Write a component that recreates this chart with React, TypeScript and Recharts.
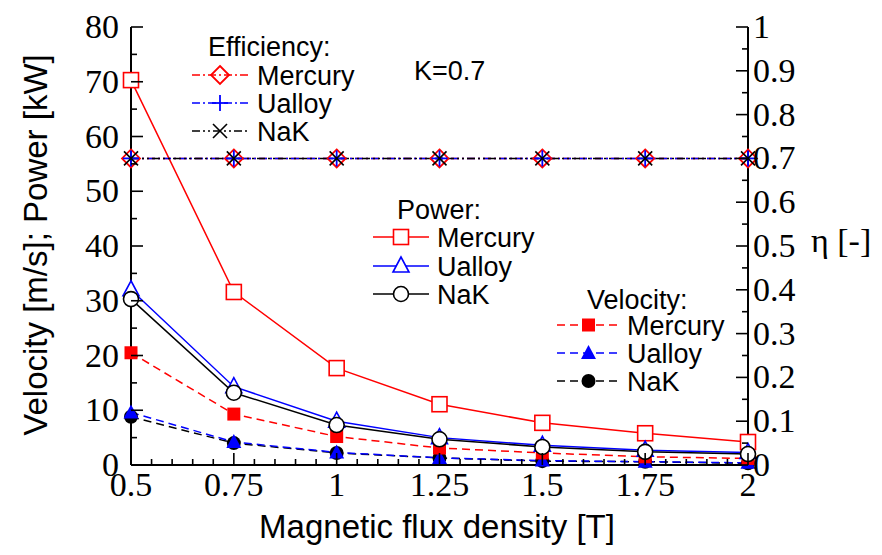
import React from "react";
import { LineChart, Line, XAxis, YAxis } from "recharts";

// Magnetic flux density [T]
const fluxDensity = [0.5, 0.75, 1, 1.25, 1.5, 1.75, 2];

// Power [kW]
const powerMercury = [70.3, 31.6, 17.7, 11.1, 7.7, 5.8, 4.2];
const powerUalloy = [32.0, 14.3, 8.0, 5.0, 3.6, 2.7, 2.3];
const powerNaK = [30.3, 13.2, 7.3, 4.7, 3.3, 2.4, 2.0];

// Velocity [m/s]
const velMercury = [20.5, 9.3, 5.2, 3.1, 2.2, 1.5, 1.2];
const velUalloy = [9.6, 4.2, 2.3, 1.3, 0.8, 0.6, 0.4];
const velNaK = [8.8, 4.0, 2.2, 1.3, 0.7, 0.6, 0.3];

// Efficiency [-]
const effMercury = [0.7, 0.7, 0.7, 0.7, 0.7, 0.7, 0.7];
const effUalloy = [0.7, 0.7, 0.7, 0.7, 0.7, 0.7, 0.7];
const effNaK = [0.7, 0.7, 0.7, 0.7, 0.7, 0.7, 0.7];

// ticks (minor + major)
const xTicks = Array.from({ length: 31 }, (_, i) => +(0.5 + i * 0.05).toFixed(2));
const leftTicks = Array.from({ length: 17 }, (_, i) => i * 5);
const rightTicks = Array.from({ length: 21 }, (_, i) => +(i * 0.05).toFixed(2));

const data = fluxDensity.map((b, i) => ({
  b,
  pM: powerMercury[i],
  pU: powerUalloy[i],
  pN: powerNaK[i],
  vM: velMercury[i],
  vU: velUalloy[i],
  vN: velNaK[i],
  eM: effMercury[i],
  eU: effUalloy[i],
  eN: effNaK[i],
}));

const SERIF = "'Liberation Serif', 'Times New Roman', serif";
const SANS = "'Liberation Sans', Arial, sans-serif";
const RED = "#ff0000";
const BLUE = "#0000ff";
const TICK_FS = 34;

const isMajor = (v: number, step: number) => Math.abs(v / step - Math.round(v / step)) < 1e-6;

function Marker({ kind, cx, cy, color }: { kind: string; cx: number; cy: number; color: string }) {
  switch (kind) {
    case "sqOpen":
      return <rect x={cx - 7.5} y={cy - 7.5} width={15} height={15} fill="#fff" stroke={color} strokeWidth={1.6} />;
    case "triOpen":
      return (
        <polygon
          points={`${cx},${cy - 9} ${cx - 8},${cy + 6} ${cx + 8},${cy + 6}`}
          fill="#fff"
          stroke={color}
          strokeWidth={1.6}
        />
      );
    case "circOpen":
      return <circle cx={cx} cy={cy} r={7.5} fill="#fff" stroke={color} strokeWidth={1.6} />;
    case "sqFill":
      return <rect x={cx - 6.5} y={cy - 6.5} width={13} height={13} fill={color} />;
    case "triFill":
      return <polygon points={`${cx},${cy - 8} ${cx - 7.5},${cy + 6} ${cx + 7.5},${cy + 6}`} fill={color} />;
    case "circFill":
      return <circle cx={cx} cy={cy} r={7} fill={color} />;
    case "diamond":
      return (
        <polygon
          points={`${cx},${cy - 9} ${cx + 9},${cy} ${cx},${cy + 9} ${cx - 9},${cy}`}
          fill="none"
          stroke={color}
          strokeWidth={1.8}
        />
      );
    case "plus":
      return (
        <g stroke={color} strokeWidth={1.8}>
          <line x1={cx - 8} y1={cy} x2={cx + 8} y2={cy} />
          <line x1={cx} y1={cy - 8} x2={cx} y2={cy + 8} />
        </g>
      );
    case "cross":
      return (
        <g stroke={color} strokeWidth={1.6}>
          <line x1={cx - 7} y1={cy - 7} x2={cx + 7} y2={cy + 7} />
          <line x1={cx - 7} y1={cy + 7} x2={cx + 7} y2={cy - 7} />
        </g>
      );
    default:
      return null;
  }
}

const dot = (kind: string, color: string) => (props: any) => {
  const { cx, cy, index } = props;
  if (cx == null || cy == null) return <g key={index} />;
  return (
    <g key={index}>
      <Marker kind={kind} cx={cx} cy={cy} color={color} />
    </g>
  );
};

function BottomTick(props: any) {
  const { x, y, payload } = props;
  const v = payload.value;
  const major = isMajor(v, 0.25);
  return (
    <g>
      <line x1={x} y1={y} x2={x} y2={y - (major ? 12 : 6)} stroke="#000" strokeWidth={1.6} />
      {major && (
        <text x={x} y={y + 31} textAnchor="middle" fontFamily={SERIF} fontSize={TICK_FS} fill="#000">
          {String(v)}
        </text>
      )}
    </g>
  );
}

function TopTick(props: any) {
  const { x, y, payload } = props;
  const major = isMajor(payload.value, 0.25);
  return <line x1={x} y1={y} x2={x} y2={y + (major ? 12 : 6)} stroke="#000" strokeWidth={1.6} />;
}

function LeftTick(props: any) {
  const { x, y, payload } = props;
  const v = payload.value;
  const major = isMajor(v, 10);
  return (
    <g>
      <line x1={x} y1={y} x2={x + (major ? 12 : 6)} y2={y} stroke="#000" strokeWidth={1.6} />
      {major && (
        <text x={x - 12} y={y + 11} textAnchor="end" fontFamily={SERIF} fontSize={TICK_FS} fill="#000">
          {String(v)}
        </text>
      )}
    </g>
  );
}

function RightTick(props: any) {
  const { x, y, payload } = props;
  const v = payload.value;
  const major = isMajor(v, 0.1);
  return (
    <g>
      <line x1={x} y1={y} x2={x - (major ? 12 : 6)} y2={y} stroke="#000" strokeWidth={1.6} />
      {major && (
        <text x={x + 5} y={y + 11} textAnchor="start" fontFamily={SERIF} fontSize={TICK_FS} fill="#000">
          {String(v)}
        </text>
      )}
    </g>
  );
}

interface LegendRow {
  label: string;
  kind: string;
  color: string;
  dash?: string;
}

function LegendBlock({
  title,
  titleX,
  titleY,
  rows,
  rowY,
  lineX1,
  lineX2,
  textX,
}: {
  title: string;
  titleX: number;
  titleY: number;
  rows: LegendRow[];
  rowY: number[];
  lineX1: number;
  lineX2: number;
  textX: number;
}) {
  const mx = (lineX1 + lineX2) / 2;
  return (
    <g>
      <text x={titleX} y={titleY} fontFamily={SANS} fontSize={27} fill="#000">
        {title}
      </text>
      {rows.map((r, i) => (
        <g key={r.label}>
          <line
            x1={lineX1}
            x2={lineX2}
            y1={rowY[i]}
            y2={rowY[i]}
            stroke={r.color}
            strokeWidth={1.5}
            strokeDasharray={r.dash}
          />
          <Marker kind={r.kind} cx={mx} cy={rowY[i]} color={r.color} />
          <text x={textX} y={rowY[i] + 10} fontFamily={SANS} fontSize={27} fill="#000">
            {r.label}
          </text>
        </g>
      ))}
    </g>
  );
}

export default function App() {
  const W = 882;
  const H = 555;
  return (
    <div style={{ position: "absolute", left: 0, top: 0, width: W, height: H, background: "#fff" }}>
      <LineChart width={W} height={H} data={data} margin={{ top: 27, right: 0, bottom: 0, left: 0 }}>
        <XAxis
          xAxisId="bottom"
          dataKey="b"
          type="number"
          domain={[0.5, 2]}
          ticks={xTicks}
          interval={0}
          height={90}
          tickSize={0}
          tickMargin={0}
          tick={<BottomTick />}
          axisLine={{ stroke: "#000", strokeWidth: 2 }}
          tickLine={false}
        />
        <XAxis
          xAxisId="top"
          orientation="top"
          dataKey="b"
          type="number"
          domain={[0.5, 2]}
          ticks={xTicks}
          interval={0}
          height={0}
          tickSize={0}
          tickMargin={0}
          tick={<TopTick />}
          axisLine={{ stroke: "#000", strokeWidth: 2 }}
          tickLine={false}
        />
        <YAxis
          yAxisId="left"
          domain={[0, 80]}
          ticks={leftTicks}
          interval={0}
          width={131}
          tickSize={0}
          tickMargin={0}
          tick={<LeftTick />}
          axisLine={{ stroke: "#000", strokeWidth: 2 }}
          tickLine={false}
        />
        <YAxis
          yAxisId="right"
          orientation="right"
          domain={[0, 1]}
          ticks={rightTicks}
          interval={0}
          width={134}
          tickSize={0}
          tickMargin={0}
          tick={<RightTick />}
          axisLine={{ stroke: "#000", strokeWidth: 2 }}
          tickLine={false}
        />

        {/* Velocity */}
        <Line xAxisId="bottom" yAxisId="left" dataKey="vN" stroke="#000" strokeWidth={1.5} strokeDasharray="8 5" dot={dot("circFill", "#000")} isAnimationActive={false} />
        <Line xAxisId="bottom" yAxisId="left" dataKey="vU" stroke={BLUE} strokeWidth={1.5} strokeDasharray="8 5" dot={dot("triFill", BLUE)} isAnimationActive={false} />
        <Line xAxisId="bottom" yAxisId="left" dataKey="vM" stroke={RED} strokeWidth={1.5} strokeDasharray="8 5" dot={dot("sqFill", RED)} isAnimationActive={false} />

        {/* Power */}
        <Line xAxisId="bottom" yAxisId="left" dataKey="pM" stroke={RED} strokeWidth={1.5} dot={dot("sqOpen", RED)} isAnimationActive={false} />
        <Line xAxisId="bottom" yAxisId="left" dataKey="pU" stroke={BLUE} strokeWidth={1.5} dot={dot("triOpen", BLUE)} isAnimationActive={false} />
        <Line xAxisId="bottom" yAxisId="left" dataKey="pN" stroke="#000" strokeWidth={1.5} dot={dot("circOpen", "#000")} isAnimationActive={false} />

        {/* Efficiency */}
        <Line xAxisId="bottom" yAxisId="right" dataKey="eM" stroke={RED} strokeWidth={1.5} strokeDasharray="8 3 2 3" dot={dot("diamond", RED)} isAnimationActive={false} />
        <Line xAxisId="bottom" yAxisId="right" dataKey="eU" stroke={BLUE} strokeWidth={1.5} strokeDasharray="8 3 2 3" dot={dot("plus", BLUE)} isAnimationActive={false} />
        <Line xAxisId="bottom" yAxisId="right" dataKey="eN" stroke="#000" strokeWidth={1.5} strokeDasharray="8 3 2 3 2 3" dot={dot("cross", "#000")} isAnimationActive={false} />
      </LineChart>

      <svg width={W} height={H} style={{ position: "absolute", left: 0, top: 0, pointerEvents: "none" }}>
        <text
          transform="translate(47,245) rotate(-90)"
          textAnchor="middle"
          fontFamily={SANS}
          fontSize={33}
          fill="#000"
        >
          Velocity [m/s]; Power [kW]
        </text>
        <text x={437} y={538} textAnchor="middle" fontFamily={SANS} fontSize={33} fill="#000">
          Magnetic flux density [T]
        </text>
        <text x={811} y={252} fontFamily={SERIF} fontSize={34} fill="#000">
          η [-]
        </text>
        <text x={414} y={80} fontFamily={SANS} fontSize={27} fill="#000">
          K=0.7
        </text>

        <LegendBlock
          title="Efficiency:"
          titleX={208}
          titleY={56}
          rows={[
            { label: "Mercury", kind: "diamond", color: RED, dash: "8 3 2 3" },
            { label: "Ualloy", kind: "plus", color: BLUE, dash: "8 3 2 3" },
            { label: "NaK", kind: "cross", color: "#000", dash: "8 3 2 3 2 3" },
          ]}
          rowY={[75, 103, 131]}
          lineX1={192}
          lineX2={248}
          textX={257}
        />
        <LegendBlock
          title="Power:"
          titleX={397}
          titleY={219}
          rows={[
            { label: "Mercury", kind: "sqOpen", color: RED },
            { label: "Ualloy", kind: "triOpen", color: BLUE },
            { label: "NaK", kind: "circOpen", color: "#000" },
          ]}
          rowY={[237, 266, 294]}
          lineX1={373}
          lineX2={429}
          textX={437}
        />
        <LegendBlock
          title="Velocity:"
          titleX={587}
          titleY={309}
          rows={[
            { label: "Mercury", kind: "sqFill", color: RED, dash: "8 5" },
            { label: "Ualloy", kind: "triFill", color: BLUE, dash: "8 5" },
            { label: "NaK", kind: "circFill", color: "#000", dash: "8 5" },
          ]}
          rowY={[325, 353, 381]}
          lineX1={557}
          lineX2={620}
          textX={627}
        />
      </svg>
    </div>
  );
}
